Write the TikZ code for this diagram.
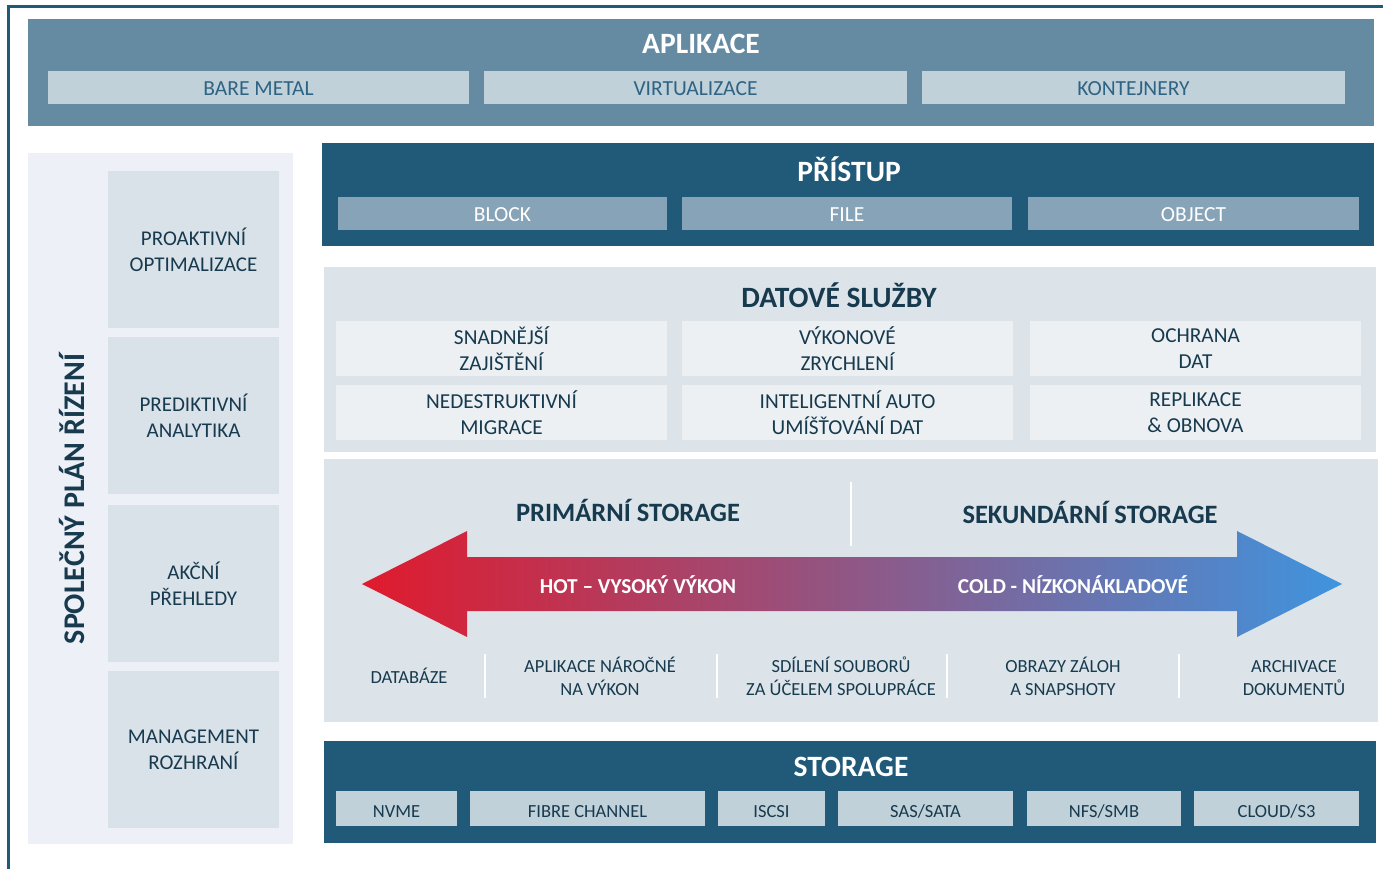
\documentclass[tikz,border=0pt]{standalone}
\usepackage{fontspec}
\setmainfont{Carlito}
\definecolor{frameblue}{HTML}{215979}
\definecolor{aplbg}{HTML}{658BA3}
\definecolor{lightsub}{HTML}{C0D1DA}
\definecolor{apltext}{HTML}{2E6384}
\definecolor{accsub}{HTML}{87A3B7}
\definecolor{paleblue}{HTML}{DCE4EA}
\definecolor{palesub}{HTML}{ECF0F3}
\definecolor{sidebg}{HTML}{EDF0F7}
\definecolor{sidebox}{HTML}{DAE2E9}
\definecolor{darktext}{HTML}{173A4E}
\definecolor{hotred}{HTML}{E01A2D}
\definecolor{midviolet}{HTML}{7D5C9A}
\definecolor{coldblue}{HTML}{3F94DE}
\begin{document}
\begin{tikzpicture}[x=1pt, y=-1pt,
    panel/.style={rectangle, inner sep=0pt},
    whitetitle/.style={text=white, font=\bfseries\fontsize{29.5}{32}\selectfont},
    darktitle/.style={text=darktext, font=\bfseries\fontsize{29.5}{32}\selectfont},
    aplsub/.style={panel, fill=lightsub, text=apltext, minimum height=33pt, text height=16.8pt, text depth=0pt, font=\fontsize{21.5}{24}\selectfont},
    accsubbox/.style={panel, fill=accsub, text=white, minimum height=33pt, text height=16.8pt, text depth=0pt, font=\fontsize{21.5}{24}\selectfont},
    svcbox/.style={panel, fill=palesub, text=darktext, minimum height=55pt, align=center, font=\fontsize{21.3}{26}\selectfont},
    sidecell/.style={panel, fill=sidebox, text=darktext, minimum width=171pt, minimum height=157pt, align=center, font=\fontsize{21}{26}\selectfont},
    stsub/.style={panel, fill=lightsub, text=darktext, minimum height=35pt, text height=18.9pt, text depth=0pt, font=\fontsize{18.5}{21}\selectfont},
    tiertitle/.style={text=darktext, font=\bfseries\fontsize{26.5}{29}\selectfont},
    arrowtext/.style={text=white, font=\bfseries\fontsize{21.3}{24}\selectfont},
    usecase/.style={text=darktext, align=center, font=\fontsize{18.5}{23}\selectfont},
    divider/.style={white, line width=2.5pt}]
    \useasboundingbox (0,0) rectangle (1383,869);
    \fill[white] (0,0) rectangle (1383,869);

    % Frame
    \draw[frameblue, line width=3pt] (1383,7) -| (8,869);

    % Application layer
    \node[panel, fill=aplbg, minimum width=1346pt, minimum height=107pt] (apl) at (701,72.5) {};
    \node[whitetitle] (apltitle) at (701,44) {APLIKACE};
    \node[aplsub, minimum width=421pt] (bare) at (258.5,87.5) {BARE METAL};
    \node[aplsub, minimum width=423pt] (virt) at (695.5,87.5) {VIRTUALIZACE};
    \node[aplsub, minimum width=423pt] (kont) at (1133.5,87.5) {KONTEJNERY};

    % Management side panel
    \node[panel, fill=sidebg, minimum width=265pt, minimum height=691pt] (side) at (160.5,498.5) {};
    \node[darktitle, rotate=90, font=\bfseries\fontsize{30}{32}\selectfont] (sidetitle) at (72,499) {SPOLEČNÝ PLÁN ŘÍZENÍ};
    \node[sidecell] (proakt) at (193.5,249.5) {PROAKTIVNÍ\\OPTIMALIZACE};
    \node[sidecell] (predikt) at (193.5,415.5) {PREDIKTIVNÍ\\ANALYTIKA};
    \node[sidecell] (akcni) at (193.5,583.5) {AKČNÍ\\PŘEHLEDY};
    \node[sidecell] (mgmt) at (193.5,749.5) {MANAGEMENT\\ROZHRANÍ};

    % Access layer
    \node[panel, fill=frameblue, minimum width=1052pt, minimum height=103pt] (pristup) at (848,194.5) {};
    \node[whitetitle] (pristuptitle) at (849,169) {PŘÍSTUP};
    \node[accsubbox, minimum width=329pt] (block) at (502.5,213.5) {BLOCK};
    \node[accsubbox, minimum width=330pt] (file) at (847,213.5) {FILE};
    \node[accsubbox, minimum width=331pt] (object) at (1193.5,213.5) {OBJECT};

    % Data services
    \node[panel, fill=paleblue, minimum width=1052pt, minimum height=185pt] (sluzby) at (850,359.5) {};
    \node[darktitle] (sluzbytitle) at (839,295) {DATOVÉ SLUŽBY};
    \node[svcbox, minimum width=331pt] (snad) at (501.5,348.5) {SNADNĚJŠÍ\\ZAJIŠTĚNÍ};
    \node[svcbox, minimum width=331pt] (vykon) at (847.5,348.5) {VÝKONOVÉ\\ZRYCHLENÍ};
    \node[svcbox, minimum width=331pt] (ochrana) at (1195.5,348.5) {OCHRANA\\DAT};
    \node[svcbox, minimum width=331pt] (nedest) at (501.5,412.5) {NEDESTRUKTIVNÍ\\MIGRACE};
    \node[svcbox, minimum width=331pt] (intel) at (847.5,412.5) {INTELIGENTNÍ AUTO\\UMÍŠŤOVÁNÍ DAT};
    \node[svcbox, minimum width=331pt] (repl) at (1195.5,412.5) {REPLIKACE\\\& OBNOVA};

    % Storage tiers
    \node[panel, fill=paleblue, minimum width=1054pt, minimum height=263pt] (tiers) at (851,590.5) {};
    \draw[divider] (851,482) -- (851,546);
    \node[tiertitle] (primary) at (628,510) {PRIMÁRNÍ STORAGE};
    \node[tiertitle] (secondary) at (1090,512) {SEKUNDÁRNÍ STORAGE};
    \shade[left color=hotred, middle color=midviolet, right color=coldblue]
        (362,584) -- (467,531) -- (467,557) -- (1237,557) -- (1237,531) -- (1342,584)
        -- (1237,637) -- (1237,611) -- (467,611) -- (467,637) -- cycle;
    \node[arrowtext] (hot) at (638,585) {HOT – VYSOKÝ VÝKON};
    \node[arrowtext] (cold) at (1073,585) {COLD - NÍZKONÁKLADOVÉ};

    \node[usecase] (db) at (409,676) {DATABÁZE};
    \node[usecase] (apps) at (600,676) {APLIKACE NÁROČNÉ\\NA VÝKON};
    \node[usecase] (share) at (841,676) {SDÍLENÍ SOUBORŮ\\ZA ÚČELEM SPOLUPRÁCE};
    \node[usecase] (backup) at (1063,676) {OBRAZY ZÁLOH\\A SNAPSHOTY};
    \node[usecase] (archive) at (1294,678) {ARCHIVACE\\DOKUMENTŮ};
    \draw[divider] (485,654) -- (485,698);
    \draw[divider] (717,654) -- (717,698);
    \draw[divider] (947,654) -- (947,698);
    \draw[divider] (1179,654) -- (1179,698);

    % Storage layer
    \node[panel, fill=frameblue, minimum width=1052pt, minimum height=102pt] (storage) at (850,792) {};
    \node[whitetitle] (storagetitle) at (851,767) {STORAGE};
    \node[stsub, minimum width=121pt] (nvme) at (396.5,808.5) {NVME};
    \node[stsub, minimum width=235pt] (fc) at (587.5,808.5) {FIBRE CHANNEL};
    \node[stsub, minimum width=107pt] (iscsi) at (771.5,808.5) {ISCSI};
    \node[stsub, minimum width=175pt] (sas) at (925.5,808.5) {SAS/SATA};
    \node[stsub, minimum width=154pt] (nfs) at (1104,808.5) {NFS/SMB};
    \node[stsub, minimum width=165pt] (cloud) at (1276.5,808.5) {CLOUD/S3};
\end{tikzpicture}
\end{document}
